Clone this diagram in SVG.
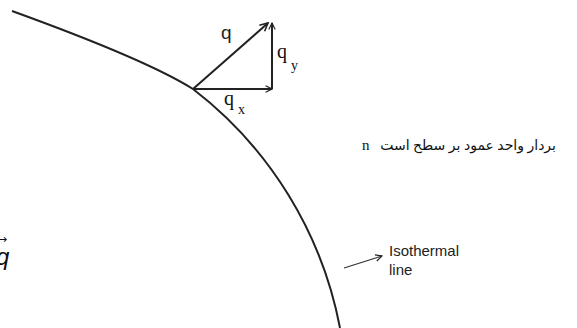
<svg xmlns="http://www.w3.org/2000/svg" width="577" height="328" viewBox="0 0 577 328">
<style>
.line{fill:none;stroke:#222;stroke-width:2}
.vec{fill:none;stroke:#222;stroke-width:2}
.lbl{font-family:"Liberation Serif","Times New Roman",serif;fill:#111}
.fa{font-family:"Liberation Serif","DejaVu Sans",serif;fill:#111}
.sans{font-family:"Liberation Sans",Arial,sans-serif;fill:#222}
</style>
<defs>
<marker id="open" viewBox="0 0 10 10" refX="9" refY="5" markerWidth="10" markerHeight="10" markerUnits="userSpaceOnUse" orient="auto">
<path d="M1,1 L9,5 L1,9" fill="none" stroke="#222" stroke-width="1.6"/>
</marker>
<marker id="openS" viewBox="0 0 10 10" refX="9" refY="5" markerWidth="8" markerHeight="8" markerUnits="userSpaceOnUse" orient="auto">
<path d="M1,1 L9,5 L1,9" fill="none" stroke="#222" stroke-width="1.4"/>
</marker>
</defs>
<rect width="577" height="328" fill="#fff"/>
<g id="isotherm">
<path class="line" d="M12,11 C70,32 150,62 193,89 A394,394 0 0 1 340,328"/>
</g>
<g id="connectors">
<line class="vec" x1="193" y1="89" x2="268" y2="23" marker-end="url(#open)"/>
<line class="vec" x1="193" y1="89" x2="272" y2="89" marker-end="url(#openS)" stroke-width="1.6"/>
<line class="vec" x1="272" y1="89" x2="272" y2="23" marker-end="url(#openS)" stroke-width="1.6"/>
<line x1="344" y1="268" x2="382" y2="256" stroke="#333" stroke-width="1.3" marker-end="url(#openS)"/>
</g>
<g id="label-q">
<text class="sans" x="221" y="39" font-size="19">q</text>
</g>
<g id="label-qy">
<text class="lbl" x="277" y="58" font-size="20">q</text>
<text class="lbl" x="291" y="70" font-size="14">y</text>
</g>
<g id="label-qx">
<text class="lbl" x="224" y="105" font-size="20">q</text>
<text class="lbl" x="238" y="114" font-size="14">x</text>
</g>
<g id="note">
<text class="lbl" x="362" y="150" font-size="15">n</text>
<text class="fa" x="556" y="150" font-size="14" direction="rtl" text-anchor="start">بردار واحد عمود بر سطح است</text>
</g>
<g id="label-isothermal">
<text class="sans" x="389" y="256" font-size="15">Isothermal</text>
<text class="sans" x="389" y="275" font-size="15">line</text>
</g>
<g id="label-qvec">
<text x="-4" y="265" font-size="24" font-style="italic" font-family="'Liberation Sans',sans-serif" fill="#111">q</text>
<text x="-3" y="243" font-size="12" font-family="'DejaVu Sans',sans-serif" fill="#111">→</text>
</g>
</svg>
